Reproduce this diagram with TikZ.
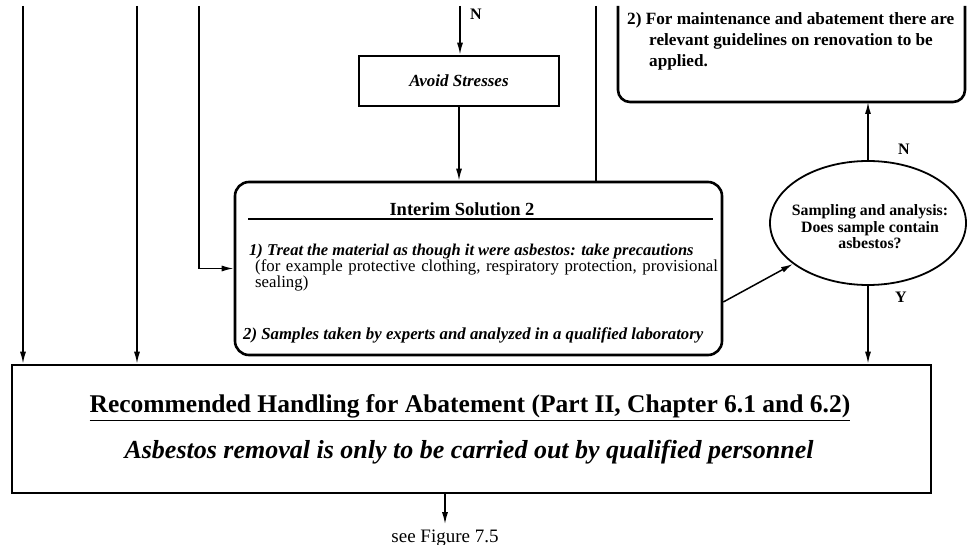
\documentclass[tikz,border=0pt]{standalone}
\usepackage{fontspec}
\setmainfont{Liberation Serif}
\usetikzlibrary{arrows.meta,shapes.geometric}

\newcommand{\fsz}[1]{\fontsize{#1}{#1}\selectfont}

\begin{document}
\begin{tikzpicture}[x=1pt,y=-1pt,
  flow/.style={line width=1.5pt,-{Latex[length=12pt,width=6pt]}},
  plain/.style={line width=1.5pt},
  box/.style={draw,line width=2.6pt,inner sep=0pt},
  txt/.style={inner sep=0pt,anchor=base west},
  lbl/.style={inner sep=0pt,anchor=base west,font=\fsz{16}\bfseries}]
\useasboundingbox (0,0) rectangle (967,545);

% loose ends at the top of the page
\coordinate (inA) at (23,6);
\coordinate (inB) at (137,6);
\coordinate (inC) at (199,6);
\coordinate (inN) at (460,6);
\coordinate (inE) at (596,6);
\coordinate (gsw) at (618,102);
\coordinate (gne) at (965,6);

% guideline box (top right, cut by the page)
\draw[box,rounded corners=12pt] (gsw |- gne) -- (gsw) -- (gne |- gsw) -- (gne);
\node[txt,font=\fsz{17.2}\bfseries] (guide1) at (627,25) {2) For maintenance and abatement there are};
\node[txt,font=\fsz{17.2}\bfseries] (guide2) at (649,46) {relevant guidelines on renovation to be};
\node[txt,font=\fsz{17.2}\bfseries] (guide3) at (649,67) {applied.};

% boxes
\node[box,minimum width=200pt,minimum height=50pt,font=\fsz{17}\bfseries\itshape] (avoid) at (459,81) {Avoid Stresses};
\node[box,rounded corners=14pt,minimum width=487pt,minimum height=173pt] (interim) at (478.5,268.5) {};
\node[draw,ellipse,line width=1.8pt,minimum width=196pt,minimum height=124pt,inner sep=0pt] (samp) at (868,223) {};
\node[box,minimum width=919pt,minimum height=128pt] (hand) at (471.5,429) {};

% interim solution text
\node[inner sep=0pt,anchor=base,font=\fsz{18.5}\bfseries] (ititle) at (462,216) {Interim Solution 2};
\draw[line width=1.2pt] (248,219) -- (713,219);
\node[txt,font=\fsz{16.5}\bfseries\itshape] (item1a) at (249,256) {1) Treat the material as though it were asbestos: take precautions};
\node[txt,text width=520pt,align=left,font=\fontsize{16.8}{16}\selectfont] (item1b) at (255,272) {(for example protective clothing, respiratory protection, provisional\\sealing)};
\node[txt,font=\fsz{16.8}\bfseries\itshape] (item2) at (243,340) {2) Samples taken by experts and analyzed in a qualified laboratory};

% sampling question
\node[inner sep=0pt,align=center,font=\fontsize{15.8}{16.5}\selectfont\bfseries] (sampq) at (870,227) {Sampling and analysis:\\Does sample contain\\asbestos?};

% handling text
\node[inner sep=0pt,anchor=base,font=\fsz{25.5}\bfseries] (hand1) at (470,413) {\underline{Recommended Handling for Abatement (Part II, Chapter 6.1 and 6.2)}};
\node[inner sep=0pt,anchor=base,font=\fsz{26}\bfseries\itshape] (hand2) at (469,458) {Asbestos removal is only to be carried out by qualified personnel};
\node[inner sep=0pt,anchor=base,font=\fsz{19}] (fig) at (445,542) {see Figure 7.5};

% labels
\node[lbl] (nA) at (470,20) {N};
\node[lbl] (nB) at (898,155) {N};
\node[lbl] (yB) at (895,303) {Y};

% connectors
\draw[flow] (inA) -- (inA |- hand.north);
\draw[flow] (inB) -- (inB |- hand.north);
\draw[flow] (inC) |- (interim.west);
\draw[flow] (inN) -- (inN |- avoid.north);
\draw[flow] (avoid.south) -- (avoid.south |- interim.north);
\draw[plain] (inE) -- (inE |- interim.north);
\draw[flow] ([yshift=-33.5pt]interim.east) -- (samp);
\draw[flow] (samp.north) -- (samp.north |- gsw);
\draw[flow] (samp.south) -- (samp.south |- hand.north);
\draw[flow] (hand.south -| fig) -- ([yshift=5pt]fig.north);
\end{tikzpicture}
\end{document}
